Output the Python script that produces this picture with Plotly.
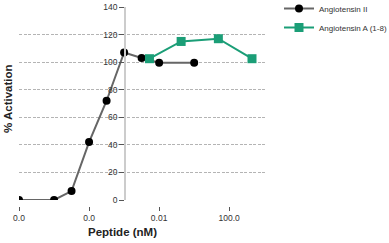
import plotly.graph_objects as go

# Data
ang2_x = [1e-10, 1e-8, 1e-7, 1e-6, 1e-5, 1e-4, 1e-3, 1e-2, 1.0]
ang2_y = [0, 0, 6.5, 42, 72, 107, 103, 99.5, 99.5]
angA_x = [0.0028, 0.18, 24, 2000]
angA_y = [102.5, 115, 117, 102.5]
x_tickvals = [1e-10, 1e-6, 1e-2, 1e2]
x_ticktext = ["0.0", "0.0", "0.01", "100.0"]
y_tickvals = [0, 20, 40, 60, 80, 100, 120, 140]

FONT = "Liberation Sans, Arial, sans-serif"

fig = go.Figure()
fig.add_trace(go.Scatter(
    x=ang2_x, y=ang2_y, mode="lines+markers", name="Angiotensin II",
    line=dict(color="#666666", width=2),
    marker=dict(color="#000000", size=8, symbol="circle"),
    legend="legend",
))
fig.add_trace(go.Scatter(
    x=angA_x, y=angA_y, mode="lines+markers", name="Angiotensin A (1-8)",
    line=dict(color="#1b9e77", width=2),
    marker=dict(color="#1b9e77", size=9, symbol="square"),
    legend="legend2",
))

W, H = 389, 243
ml, mr, mt, mb = 19, 123, 7, 37
pw, ph = W - ml - mr, H - mt - mb

def px_x(p):
    return (p - ml) / pw

def px_y(p):
    return (H - mb - p) / ph

legend_common = dict(
    xanchor="left", yanchor="top",
    font=dict(family=FONT, size=8, color="#333333"),
    bgcolor="rgba(0,0,0,0)",
)

fig.update_layout(
    width=W, height=H,
    margin=dict(l=ml, r=mr, t=mt, b=mb, pad=0, autoexpand=False),
    paper_bgcolor="white", plot_bgcolor="white",
    font=dict(family=FONT, size=8, color="#333333"),
    showlegend=True,
    legend=dict(x=px_x(279), y=px_y(-6), **legend_common),
    legend2=dict(x=px_x(279), y=px_y(13), **legend_common),
    xaxis=dict(
        type="log", range=[-10, 4.1],
        anchor="free", position=0,
        tickvals=x_tickvals, ticktext=x_ticktext,
        ticks="outside", ticklen=4, tickcolor="#555555", tickwidth=1,
        showline=False, showgrid=False, zeroline=False,
        tickfont=dict(family=FONT, size=8.5, color="#333333"),
        automargin=False,
    ),
    yaxis=dict(
        range=[0, 140], domain=[(206 - 200) / ph, 1],
        anchor="free", position=px_x(125),
        tickvals=y_tickvals,
        ticks="outside", ticklen=5, tickcolor="#555555", tickwidth=1,
        showline=True, linecolor="#cccccc", linewidth=1.5,
        showgrid=True, gridcolor="#b4b4b4", griddash="3px,1.5px", gridwidth=1,
        zeroline=False,
        tickfont=dict(family=FONT, size=8.5, color="#333333"),
        automargin=False,
    ),
    annotations=[
        dict(text="<b>Peptide (nM)</b>", xref="paper", yref="paper",
             x=px_x(122.5), y=px_y(232), xanchor="center", yanchor="middle",
             showarrow=False, font=dict(family=FONT, size=11.5, color="#222222")),
        dict(text="<b>% Activation</b>", xref="paper", yref="paper",
             x=px_x(8), y=px_y(99), xanchor="center", yanchor="middle",
             textangle=-90, showarrow=False,
             font=dict(family=FONT, size=11.5, color="#222222")),
    ],
)

fig.write_html("out.html")
